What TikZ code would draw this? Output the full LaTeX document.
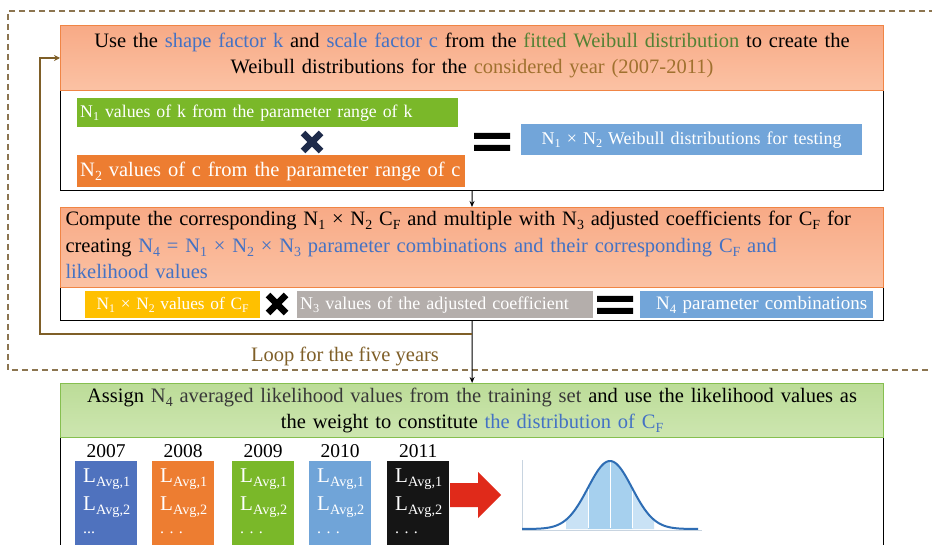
\documentclass[tikz,border=0pt]{standalone}
\usepackage{fontspec}
\usepackage{graphicx}
\setmainfont{Liberation Serif}
\usetikzlibrary{arrows.meta,calc}
\newcommand\sbx[1]{\raisebox{-0.45ex}{\scalebox{0.68}{#1}}}
\definecolor{tblue}{HTML}{4472C4}
\definecolor{tgreen}{HTML}{548235}
\definecolor{tbrown}{HTML}{A0712F}
\definecolor{loopc}{HTML}{7F5F28}
\definecolor{dashc}{HTML}{8C7550}
\definecolor{ohdrT}{HTML}{F8AA86}
\definecolor{ohdrB}{HTML}{FBC2A4}
\definecolor{obord}{HTML}{F08545}
\definecolor{ghdrT}{HTML}{BCDC98}
\definecolor{ghdrB}{HTML}{CDE6B0}
\definecolor{gbord}{HTML}{86BF50}
\definecolor{cgreen}{HTML}{7AB829}
\definecolor{corange}{HTML}{ED7D31}
\definecolor{cblue}{HTML}{72A5D9}
\definecolor{cyellow}{HTML}{FFC000}
\definecolor{cgray}{HTML}{B4AEAB}
\definecolor{cnavy}{HTML}{1E2B4A}
\definecolor{c2007}{HTML}{4F72BE}
\definecolor{c2008}{HTML}{ED7D31}
\definecolor{c2009}{HTML}{7AB829}
\definecolor{c2010}{HTML}{70A4D8}
\definecolor{c2011}{HTML}{151515}
\definecolor{cred}{HTML}{E02A1A}
\definecolor{bellc}{HTML}{2E6DB4}
\definecolor{bellL}{HTML}{C9E2F5}
\definecolor{bellM}{HTML}{A6D0EE}
\definecolor{axc}{HTML}{C8D4E0}
\begin{document}
\begin{tikzpicture}[x=1pt,y=-1pt,
  hdrO/.style={anchor=north west, draw=obord, line width=1pt, top color=ohdrT, bottom color=ohdrB, minimum width=823, inner sep=0},
  hdrG/.style={anchor=north west, draw=gbord, line width=1.2pt, top color=ghdrT, bottom color=ghdrB, minimum width=823, inner sep=0},
  htxt/.style={inner xsep=5, inner ysep=0, text width=813, font=\fontsize{20.5}{26.5}\selectfont},
  bodyb/.style={anchor=north west, draw=black, line width=1.1pt, fill=white, minimum width=823, inner sep=0},
  fbox/.style={anchor=north west, text=white, inner xsep=3, inner ysep=0},
  conn/.style={draw=black, line width=1pt, -{Stealth[length=6pt,width=5pt]}},
  loopline/.style={draw=loopc, line width=2.5pt, -{Stealth[length=6pt,width=6pt]}},
  crossln/.style={line width=6.5pt},
  ybox/.style={anchor=north west, minimum width=62, minimum height=95, inner sep=0},
  ytxt/.style={anchor=base west, text=white, inner sep=0, font=\fontsize{21}{24}\selectfont},
  ylab/.style={anchor=base, inner sep=0, font=\fontsize{19.5}{22}\selectfont}
]
\useasboundingbox (0,0) rectangle (932,545);
% dashed loop frame
\draw[dashc, line width=1.1pt, dash pattern=on 6pt off 4pt] (935,11) -- (8,11) -- (8,370) -- (935,370);

% ---------- panel 1 ----------
\node[bodyb, minimum height=100] (b1) at (60,90) {};
\node[hdrO, minimum height=65] (h1) at (60,25) {};
\node[htxt, align=center] (h1t) at ($(h1.center)+(0,-2.5)$)
 {Use the \textcolor{tblue}{shape factor k} and \textcolor{tblue}{scale factor c} from the \textcolor{tgreen}{fitted Weibull distribution} to create the\\
  Weibull distributions for the \textcolor{tbrown}{considered year (2007-2011)}};
\node[fbox, fill=cgreen, minimum width=381, minimum height=29, text width=375, align=left, font=\fontsize{17.8}{20}\selectfont] (kbox) at (77,98)
 {N\sbx{1} values of k from the parameter range of k};
\node[fbox, fill=corange, minimum width=388, minimum height=32, text width=382, align=left, font=\fontsize{20.5}{22}\selectfont] (cbox) at (77,155)
 {N\sbx{2} values of c from the parameter range of c};
\node[fbox, fill=cblue, minimum width=341, minimum height=31, text width=335, align=center, font=\fontsize{18}{20}\selectfont] (wbox) at (521,124)
 {N\sbx{1} × N\sbx{2} Weibull distributions for testing};
\coordinate (x1) at (312,142);
\draw[cnavy, crossln] ($(x1)+(-9,-9)$) -- ($(x1)+(9,9)$) ($(x1)+(-9,9)$) -- ($(x1)+(9,-9)$);
\coordinate (e1) at (492,142);
\fill[black] ($(e1)+(-18,-9)$) rectangle ($(e1)+(18,-3)$) ($(e1)+(-18,3)$) rectangle ($(e1)+(18,9)$);

% ---------- panel 2 ----------
\node[bodyb, minimum height=33] (b2) at (60,287) {};
\node[hdrO, minimum height=80] (h2) at (60,207) {};
\node[htxt, align=left] (h2t) at ($(h2.center)+(0,-2.5)$)
 {Compute the corresponding N\sbx{1} × N\sbx{2} C\sbx{F} and multiple with N\sbx{3} adjusted coefficients for C\sbx{F} for\\
  creating \textcolor{tblue}{N\sbx{4} = N\sbx{1} × N\sbx{2} × N\sbx{3} parameter combinations and their corresponding C\sbx{F} and}\\
  \textcolor{tblue}{likelihood values}};
\node[fbox, fill=cyellow, minimum width=175, minimum height=27, text width=169, align=center, font=\fontsize{17.3}{19}\selectfont] (ybx) at (85,291)
 {N\sbx{1} × N\sbx{2} values of C\sbx{F}};
\node[fbox, fill=cgray, minimum width=296, minimum height=27, text width=290, align=left, font=\fontsize{18}{19}\selectfont] (gbx) at (297,291)
 {N\sbx{3} values of the adjusted coefficient};
\node[fbox, fill=cblue, minimum width=233, minimum height=27, text width=227, align=center, font=\fontsize{19}{19}\selectfont] (n4bx) at (640,291)
 {\hspace*{10pt}N\sbx{4} parameter combinations};
\coordinate (x2) at (277,304);
\draw[black, crossln] ($(x2)+(-9,-9)$) -- ($(x2)+(9,9)$) ($(x2)+(-9,9)$) -- ($(x2)+(9,-9)$);
\coordinate (e2) at (615,305);
\fill[black] ($(e2)+(-18,-9)$) rectangle ($(e2)+(18,-3)$) ($(e2)+(-18,3)$) rectangle ($(e2)+(18,9)$);

% ---------- panel 3 ----------
\node[bodyb, minimum height=120] (b3) at (60,437) {};
\node[hdrG, minimum height=54] (h3) at (60,383) {};
\node[htxt, align=center, font=\fontsize{20.5}{26}\selectfont] (h3t) at (h3.center)
 {Assign \textcolor{black!78}{N\sbx{4} averaged likelihood values from the training set} and use the likelihood values as\\
  the weight to constitute \textcolor{tblue}{the distribution of C\sbx{F}}};

\foreach \yr/\xx in {2007/75, 2008/152, 2009/232, 2010/309, 2011/387}{
  \node[ybox, fill=c\yr] (bx\yr) at (\xx,461) {};
  \node[ylab] (lab\yr) at ($(bx\yr.north)+(0,-4)$) {\yr};
  \node[ytxt] (la\yr) at ($(bx\yr.north west)+(8,21)$) {L\sbx{Avg,1}};
  \node[ytxt] (lb\yr) at ($(bx\yr.north west)+(8,49)$) {L\sbx{Avg,2}};
  \node[ytxt] (lc\yr) at ($(bx\yr.north west)+(8,72)$) {\fontsize{16}{18}\selectfont\ifnum\yr=2007 ...\else .\,\,.\,\,.\fi};
}

% red arrow
\fill[cred] (450,483) -- (478,483) -- (478,472) -- (501,495) -- (478,518) -- (478,507) -- (450,507) -- cycle;

% bell curve
\fill[bellL] plot[domain=566:588, samples=20] (\x, {529-68*exp(-((\x-610)^2)/968)}) -- (588,529) -- (566,529) -- cycle;
\fill[bellM] plot[domain=588:632, samples=30] (\x, {529-68*exp(-((\x-610)^2)/968)}) -- (632,529) -- (588,529) -- cycle;
\fill[bellL] plot[domain=632:654, samples=20] (\x, {529-68*exp(-((\x-610)^2)/968)}) -- (654,529) -- (632,529) -- cycle;
\foreach \bx in {588,610,632}{
  \draw[white, line width=0.8pt] (\bx,528) -- (\bx, {529-68*exp(-((\bx-610)^2)/968)+1});
}
\draw[axc, line width=1pt] (522,460) -- (522,530) -- (702,530);
\draw[bellc, line width=2pt, line join=round] plot[domain=522:698, samples=120] (\x, {529-68*exp(-((\x-610)^2)/968)});

% connectors
\draw[conn] (b1.south) -- (h2.north);
\draw[conn] (b2.south) -- (h3.north);
\coordinate (lp) at ($(b2.south)+(0,13)$);
\draw[loopline] (lp) -| ($(h1.west)+(-20,0)$) -- (h1.west);
\node[text=loopc, font=\fontsize{20.5}{22}\selectfont, inner sep=0] (looptxt) at (345,356) {Loop for the five years};
\end{tikzpicture}
\end{document}
